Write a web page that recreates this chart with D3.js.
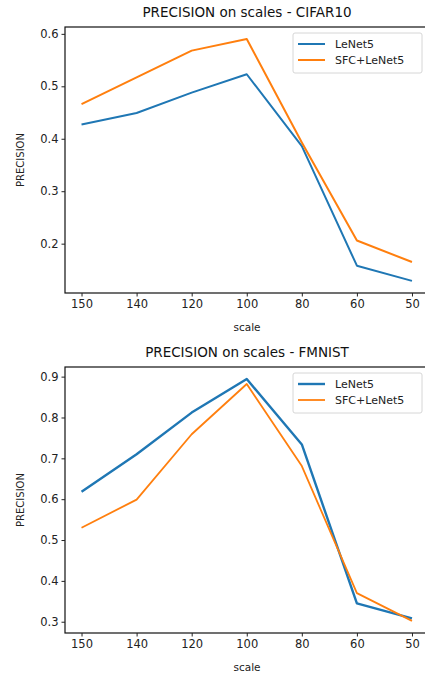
<!DOCTYPE html>
<html>
<head>
<meta charset="utf-8">
<script src="https://cdn.jsdelivr.net/npm/d3@7"></script>
<style>
  body { margin: 0; background: #fff; }
  svg { display: block; font-family: "DejaVu Sans", sans-serif; }
</style>
</head>
<body>
<div id="chart"></div>
<script>
// x categories (plotted in this order, evenly spaced)
const scales = ['150', '140', '120', '100', '80', '60', '50'];

// CIFAR10 precision
const cifarLeNet5 = [0.427, 0.449, 0.488, 0.523, 0.386, 0.158, 0.129];
const cifarSFC = [0.466, 0.517, 0.568, 0.590, 0.393, 0.206, 0.165];

// FMNIST precision
const fmnistLeNet5 = [0.618, 0.710, 0.812, 0.894, 0.734, 0.345, 0.308];
const fmnistSFC = [0.530, 0.599, 0.759, 0.882, 0.681, 0.370, 0.302];

const cifarTicks = [0.2, 0.3, 0.4, 0.5, 0.6];
const fmnistTicks = [0.3, 0.4, 0.5, 0.6, 0.7, 0.8, 0.9];

const seriesNames = ['LeNet5', 'SFC+LeNet5'];
const colors = ['#1f77b4', '#ff7f0e'];

const W = 425, H = 674;
const svg = d3.select('#chart').append('svg')
    .attr('width', W)
    .attr('height', H);

function drawPanel(opts) {
    const { top, bottom, title, series, ticks, widths } = opts;
    const left = 65, right = 428.5;
    const g = svg.append('g');

    const x = d3.scalePoint()
        .domain(scales)
        .range([left, right])
        .padding(0.3);

    // matplotlib-like 5% margins
    const all = series.flat();
    const lo = d3.min(all), hi = d3.max(all);
    const m = (hi - lo) * 0.05;
    const y = d3.scaleLinear()
        .domain([lo - m, hi + m])
        .range([bottom, top]);

    const line = d3.line()
        .x((d, i) => x(scales[i]))
        .y(d => y(d));

    series.forEach((s, k) => {
        g.append('path')
            .datum(s)
            .attr('d', line)
            .attr('fill', 'none')
            .attr('stroke', colors[k])
            .attr('stroke-width', widths[k])
            .attr('stroke-linejoin', 'round');
    });

    // axes frame
    g.append('rect')
        .attr('x', left)
        .attr('y', top)
        .attr('width', right + 20 - left)
        .attr('height', bottom - top)
        .attr('fill', 'none')
        .attr('stroke', '#111')
        .attr('stroke-width', 1.2);

    const xAxis = g.append('g')
        .attr('transform', `translate(0,${bottom})`)
        .call(d3.axisBottom(x).tickSizeOuter(0).tickSize(3.5).tickPadding(3));
    const yAxis = g.append('g')
        .attr('transform', `translate(${left},0)`)
        .call(d3.axisLeft(y).tickValues(ticks).tickFormat(d3.format('.1f'))
            .tickSizeOuter(0).tickSize(3.5).tickPadding(3));
    [xAxis, yAxis].forEach(a => {
        a.select('.domain').remove();
        a.selectAll('text')
            .attr('font-size', 11.5)
            .attr('font-family', '"DejaVu Sans", sans-serif')
            .attr('fill', '#222');
        a.selectAll('line').attr('stroke', '#222');
    });

    g.append('text')
        .attr('x', 247)
        .attr('y', top - 10)
        .attr('text-anchor', 'middle')
        .attr('font-size', 13.5)
        .attr('fill', '#111')
        .text(title);

    g.append('text')
        .attr('x', 247)
        .attr('y', bottom + 38)
        .attr('text-anchor', 'middle')
        .attr('font-size', 10.5)
        .attr('fill', '#222')
        .text('scale');

    g.append('text')
        .attr('transform', `translate(24,${(top + bottom) / 2}) rotate(-90)`)
        .attr('text-anchor', 'middle')
        .attr('font-size', 10)
        .attr('fill', '#222')
        .text('PRECISION');

    // legend
    const lg = g.append('g').attr('transform', `translate(293,${top + 6})`);
    lg.append('rect')
        .attr('width', 129)
        .attr('height', 40)
        .attr('rx', 2)
        .attr('fill', '#fff')
        .attr('fill-opacity', 0.8)
        .attr('stroke', '#d6d6d6');
    seriesNames.forEach((name, k) => {
        const yy = 11 + k * 16;
        lg.append('line')
            .attr('x1', 5).attr('x2', 32)
            .attr('y1', yy).attr('y2', yy)
            .attr('stroke', colors[k])
            .attr('stroke-width', widths[k]);
        lg.append('text')
            .attr('x', 42)
            .attr('y', yy + 4)
            .attr('font-size', 11)
            .attr('fill', '#222')
            .text(name);
    });
}

drawPanel({
    top: 27, bottom: 293,
    title: 'PRECISION on scales - CIFAR10',
    series: [cifarLeNet5, cifarSFC],
    ticks: cifarTicks,
    widths: [2, 2]
});

drawPanel({
    top: 367, bottom: 633,
    title: 'PRECISION on scales - FMNIST',
    series: [fmnistLeNet5, fmnistSFC],
    ticks: fmnistTicks,
    widths: [2.4, 1.8]
});
</script>
</body>
</html>
